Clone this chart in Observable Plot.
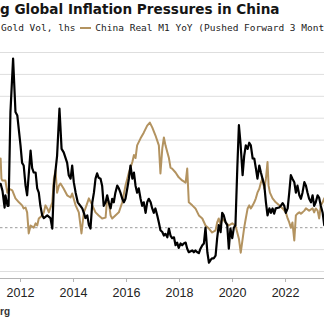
<!DOCTYPE html>
<html>
<head>
<meta charset="utf-8">
<script src="https://cdn.jsdelivr.net/npm/d3@7"></script>
<script src="https://cdn.jsdelivr.net/npm/@observablehq/plot@0.6"></script>
<style>
  html, body { margin: 0; padding: 0; background: #fff; }
  #wrap { position: relative; width: 324px; height: 328px; overflow: hidden; background: #fff; }
  #title { position: absolute; left: 0; top: 1px; white-space: nowrap;
    font-family: "DejaVu Sans", sans-serif; font-weight: bold; font-size: 13.6px; color: #151515; }
  #legend { position: absolute; left: 1px; top: 22px; white-space: nowrap;
    font-family: "DejaVu Sans Mono", monospace; font-size: 9.5px; color: #222; }
  #legend .sw { display: inline-block; width: 11px; height: 2px; background: #b39360; vertical-align: middle; margin: 0 4px 0 5px; position: relative; top: -1px; }
  #chart { position: absolute; left: 0; top: 38px; }
  #caption { position: absolute; left: 0; top: 306px; white-space: nowrap;
    font-family: "Liberation Sans", Arial, sans-serif; font-weight: bold; font-size: 10px; color: #333; }
</style>
</head>
<body>
<div id="wrap">
  <div id="title">g Global Inflation Pressures in China</div>
  <div id="legend">Gold Vol, lhs<span class="sw"></span>China Real M1 YoY (Pushed Forward 3 Mont</div>
  <div id="chart"></div>
  <div id="caption">rg</div>
</div>
<script>
// Tick labels (years)
const yearTicks = [2012, 2014, 2016, 2018, 2020, 2022];
// Left-axis grid values (gold vol) and the rhs zero line expressed on the lhs
const goldGrid = [7.5, 10, 15, 17.5, 20, 22.5, 25, 27.5, 30, 32.5];
const zeroLineGold = 12.5;

// Gold volatility, lhs (decimal year, vol)
const goldYears = [2011.25,2011.32,2011.40,2011.43,2011.51,2011.55,2011.62,2011.72,2011.81,2011.88,
2012.00,2012.06,2012.12,2012.19,2012.25,2012.38,2012.44,2012.50,2012.57,2012.63,2012.69,2012.75,2012.82,2012.88,
2013.01,2013.13,2013.20,2013.26,2013.38,2013.47,2013.55,2013.63,2013.76,2013.82,2013.89,2013.95,
2014.01,2014.08,2014.16,2014.26,2014.33,2014.39,2014.45,2014.52,2014.58,2014.64,2014.71,2014.77,2014.83,2014.89,2014.95,
2015.02,2015.08,2015.14,2015.21,2015.27,2015.33,2015.40,2015.46,2015.52,2015.58,2015.65,2015.71,2015.77,2015.84,2015.90,2015.96,
2016.03,2016.09,2016.15,2016.22,2016.28,2016.34,2016.40,2016.46,2016.53,2016.59,2016.65,2016.72,2016.78,2016.84,2016.91,2016.97,
2017.03,2017.09,2017.16,2017.22,2017.28,2017.35,2017.41,2017.47,2017.54,2017.60,2017.66,2017.72,2017.79,2017.85,2017.91,2017.97,
2018.04,2018.10,2018.16,2018.23,2018.29,2018.35,2018.48,2018.54,2018.60,2018.67,2018.73,2018.79,2018.86,2018.92,2018.98,
2019.05,2019.11,2019.17,2019.23,2019.29,2019.36,2019.42,2019.48,2019.55,2019.61,2019.67,2019.74,2019.80,2019.86,2019.92,2019.99,
2020.05,2020.11,2020.18,2020.24,2020.30,2020.38,2020.44,2020.50,2020.57,2020.63,2020.69,2020.76,2020.82,2020.88,2020.94,
2021.01,2021.07,2021.13,2021.20,2021.26,2021.32,2021.39,2021.45,2021.51,2021.57,2021.63,2021.76,2021.82,2021.89,2021.95,
2022.01,2022.08,2022.14,2022.20,2022.26,2022.33,2022.39,2022.45,2022.52,2022.58,2022.64,2022.71,2022.77,2022.83,2022.89,2022.96,
2023.02,2023.08,2023.14,2023.21,2023.27,2023.33,2023.40,2023.46];
const goldVol = [17.5,16.7,14.8,16.2,15.0,15.0,25.7,31.8,25.7,25.3,
21.9,19.9,19.6,17.3,16.2,21.3,19.3,18.8,18.8,17.0,16.5,15.0,13.9,13.6,
13.9,13.6,12.4,17.3,20.7,26.1,21.5,21.1,19.9,18.5,18.1,19.6,
17.7,16.5,15.4,15.0,14.7,14.2,13.6,13.9,12.8,12.4,15.4,16.5,18.1,18.7,18.2,
18.1,17.3,15.0,15.4,16.2,15.4,14.7,15.8,15.4,16.5,17.3,17.0,16.5,15.8,15.4,15.8,
17.0,18.1,19.6,18.1,18.8,17.3,16.5,17.0,15.8,15.0,15.4,14.2,15.4,15.8,15.4,14.7,
14.2,14.7,13.9,13.1,12.2,12.0,11.6,11.8,11.4,12.4,11.6,11.3,11.4,10.5,10.8,10.2,
10.7,10.5,10.7,10.8,10.1,9.7,9.9,9.7,9.9,9.7,9.6,10.1,10.5,10.7,12.5,
9.7,8.5,8.8,9.0,9.0,9.3,11.3,12.8,12.0,14.2,13.9,13.1,12.8,10.1,12.4,11.3,
12.5,12.8,19.3,24.2,22.2,18.5,20.7,21.9,21.5,22.2,21.9,20.4,20.4,19.3,18.1,
19.6,18.8,18.1,17.3,15.4,13.9,14.7,14.2,14.7,14.1,14.7,14.8,15.0,15.3,15.0,
14.2,14.7,16.5,18.5,18.1,17.7,16.5,17.3,16.2,15.8,16.5,17.7,17.3,16.5,15.8,15.4,
16.2,15.0,15.4,16.2,15.9,15.0,14.2,12.8];

// China real M1 YoY pushed forward 3 months, rhs (decimal year, %)
const m1Years = [2011.25,2011.28,2011.31,2011.43,2011.50,2011.56,2011.69,2011.81,2011.94,
2012.06,2012.12,2012.19,2012.25,2012.31,2012.38,2012.50,2012.57,2012.63,2012.69,2012.82,2012.88,2012.94,
2013.01,2013.07,2013.20,2013.26,2013.32,2013.38,2013.45,2013.51,2013.63,2013.76,2013.89,2013.95,
2014.08,2014.20,2014.30,2014.39,2014.45,2014.58,2014.71,2014.83,2014.95,
2015.08,2015.21,2015.27,2015.33,2015.40,2015.46,2015.58,2015.71,2015.84,2015.96,
2016.09,2016.22,2016.28,2016.34,2016.40,2016.53,2016.65,2016.78,2016.88,2016.97,
2017.09,2017.22,2017.28,2017.35,2017.41,2017.47,2017.54,2017.60,2017.66,2017.72,2017.85,2017.97,
2018.10,2018.23,2018.29,2018.35,2018.48,2018.60,2018.73,2018.86,2018.98,
2019.11,2019.23,2019.36,2019.42,2019.48,2019.55,2019.61,2019.74,2019.86,2019.99,
2020.11,2020.24,2020.31,2020.44,2020.50,2020.57,2020.63,2020.69,2020.76,2020.82,2020.88,2020.94,
2021.01,2021.07,2021.13,2021.20,2021.26,2021.32,2021.36,2021.41,2021.51,2021.63,2021.76,2021.89,
2022.01,2022.08,2022.14,2022.20,2022.26,2022.33,2022.39,2022.45,2022.52,2022.58,2022.64,2022.71,2022.77,2022.89,
2023.02,2023.08,2023.14,2023.21,2023.27,2023.33,2023.40,2023.46];
const m1Real = [15.8,11.2,10.8,10.8,8.0,8.9,8.5,6.7,5.8,
5.1,4.4,4.6,3.5,-1.3,0.5,0.0,1.0,0.5,2.1,2.8,3.5,5.1,
4.4,3.5,5.8,11.2,13.1,8.0,9.6,10.1,8.9,7.4,6.9,7.8,
5.1,3.5,-1.3,3.5,4.4,6.7,5.1,3.5,2.8,
2.1,2.3,6.7,5.8,2.8,2.1,2.8,3.5,5.8,9.6,
12.6,15.0,16.6,15.9,18.8,20.4,21.7,23.3,24.0,22.9,
21.1,18.8,12.4,18.1,20.6,18.8,17.2,15.9,13.7,13.5,12.6,11.5,
10.8,10.3,13.5,5.8,5.1,4.4,2.8,2.1,0.5,
-0.2,-1.1,-0.6,1.2,2.1,0.5,2.1,1.2,0.5,1.0,
0.5,-2.5,-5.7,0.0,2.1,4.4,5.1,4.4,5.1,5.8,6.7,8.0,
8.9,10.3,11.2,8.9,11.2,15.0,9.6,8.0,6.7,5.8,5.1,4.4,
3.5,2.1,1.2,0.0,1.2,-2.9,2.8,3.2,3.5,3.2,3.5,3.9,4.4,3.9,
4.4,3.5,4.4,3.9,2.1,5.1,5.8,6.7];

const gold = goldYears.map((t, i) => ({t, v: goldVol[i]}));
const m1 = m1Years.map((t, i) => ({t, v: m1Real[i]}));
// rhs -> lhs mapping: rhs 0 sits on lhs 12.5, 5 rhs points per 2.5 lhs points
const rhsToLhs = v => zeroLineGold + v / 2;

const chart = Plot.plot({
  width: 324,
  height: 267,
  marginLeft: 0,
  marginRight: 0,
  marginTop: 7,
  marginBottom: 27,
  style: { fontFamily: "Liberation Sans, Arial, sans-serif", fontSize: "12.5px", color: "#222", background: "#fff" },
  x: { type: "linear", domain: [2011.245, 2023.47], label: null },
  y: { domain: [6.7, 33.3], axis: null },
  marks: [
    Plot.ruleY(goldGrid, { stroke: "#dedede", strokeWidth: 1 }),
    Plot.ruleY([zeroLineGold], { stroke: "#9a9a9a", strokeWidth: 1, strokeDasharray: "2.5,2.5" }),
    Plot.ruleY([6.7], { stroke: "#b5b5b5", strokeWidth: 1.2 }),
    Plot.line(m1, { x: "t", y: d => rhsToLhs(d.v), stroke: "#b39360", strokeWidth: 2, clip: true }),
    Plot.line(gold, { x: "t", y: "v", stroke: "#000", strokeWidth: 2.2, clip: true }),
    Plot.axisX(yearTicks, { tickSize: 4, tickPadding: 5.5, tickFormat: d => String(d), stroke: "#b5b5b5", fill: "#222" })
  ]
});
document.getElementById("chart").appendChild(chart);
</script>
</body>
</html>
